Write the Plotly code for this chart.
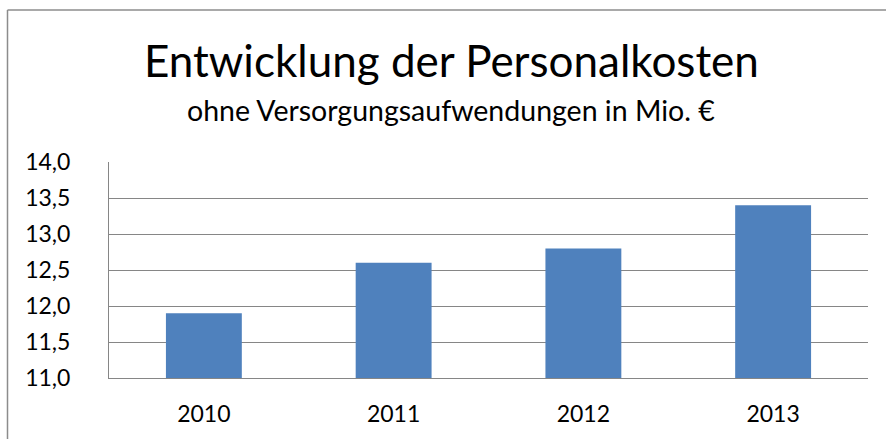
import plotly.graph_objects as go

years = ["2010", "2011", "2012", "2013"]
values = [11.9, 12.6, 12.8, 13.4]
y_ticks = [11.0, 11.5, 12.0, 12.5, 13.0, 13.5, 14.0]
y_tick_labels = ["11,0", "11,5", "12,0", "12,5", "13,0", "13,5", "14,0"]
title_text = "Entwicklung der Personalkosten"
subtitle_text = "ohne Versorgungsaufwendungen in Mio. €"

W, H = 886, 439
PL, PR, PT, PB = 109, 868, 162, 378  # plot area in window pixels
L, T = PL, PT
R, B = W - PR, H - PB
pw, ph = W - L - R, H - T - B

def px_x(px):
    return (px - L) / pw

def px_y(py):
    return (H - B - py) / ph

FONT = "Lato"
GRID = "#868686"
BORDER = dict(color="#8c8c8c", width=1.5)

fig = go.Figure(go.Bar(
    x=years, y=values,
    marker=dict(color="#4F81BD", line=dict(width=0)),
    width=0.4,
    hoverinfo="skip",
))

fig.update_layout(
    width=W, height=H,
    margin=dict(l=L, r=R, t=T, b=B),
    paper_bgcolor="white", plot_bgcolor="white",
    showlegend=False,
    font=dict(family=FONT, color="#000000"),
    xaxis=dict(
        showline=True, linecolor=GRID, linewidth=1,
        showgrid=False, ticks="",
        tickfont=dict(family=FONT, size=23, color="#000"),
        ticklabelstandoff=15,
    ),
    yaxis=dict(
        range=[11, 14],
        tickvals=y_ticks, ticktext=y_tick_labels,
        showgrid=True, gridcolor=GRID, gridwidth=1,
        showline=True, linecolor=GRID, linewidth=1,
        zeroline=False, ticks="",
        tickfont=dict(family=FONT, size=23, color="#000"),
        ticklabelstandoff=33,
    ),
    annotations=[
        dict(text=title_text, x=px_x(451), y=px_y(60), xref="paper", yref="paper",
             xanchor="center", yanchor="middle", showarrow=False,
             font=dict(family=FONT, size=44, color="#000")),
        dict(text=subtitle_text, x=px_x(451), y=px_y(110), xref="paper", yref="paper",
             xanchor="center", yanchor="middle", showarrow=False,
             font=dict(family=FONT, size=28.5, color="#000")),
    ],
    shapes=[
        dict(type="line", xref="paper", yref="paper",
             x0=px_x(7.5), x1=px_x(7.5), y0=px_y(450), y1=px_y(10),
             line=BORDER, layer="below"),
        dict(type="line", xref="paper", yref="paper",
             x0=px_x(7.5), x1=px_x(900), y0=px_y(10), y1=px_y(10),
             line=BORDER, layer="below"),
    ],
)

fig.write_html(
    "out.html",
    config={"displayModeBar": False},
    post_script="document.body.style.margin='0';document.body.style.overflow='hidden';"
                "document.documentElement.style.overflow='hidden';",
)
